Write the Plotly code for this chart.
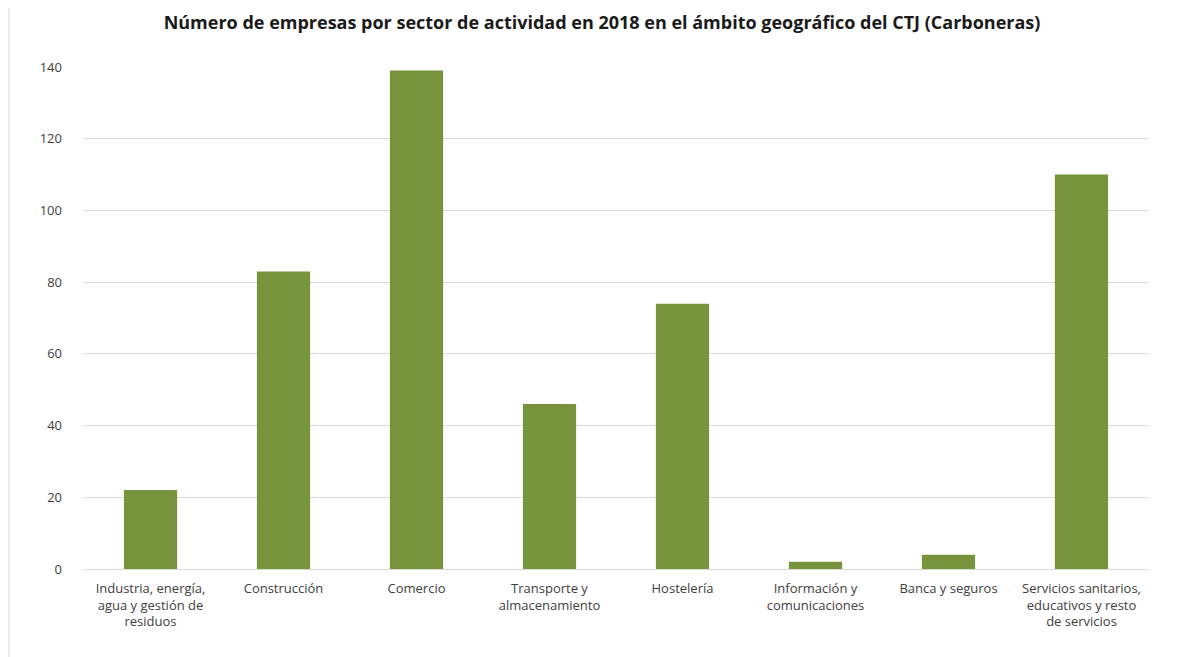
import plotly.graph_objects as go

categories = [
    "Industria, energía,<br>agua y gestión de<br>residuos",
    "Construcción",
    "Comercio",
    "Transporte y<br>almacenamiento",
    "Hostelería",
    "Información y<br>comunicaciones",
    "Banca y seguros",
    "Servicios sanitarios,<br>educativos y resto<br>de servicios",
]
values = [22, 83, 139, 46, 74, 2, 4, 110]
y_ticks = [0, 20, 40, 60, 80, 100, 120, 140]

fig = go.Figure(
    go.Bar(x=categories, y=values, marker=dict(color="#77933C", line=dict(width=0)))
)

W, H = 1181, 649
L, R, T, B = 76, 41, 59, 88

fig.update_layout(
    width=W,
    height=H,
    paper_bgcolor="white",
    plot_bgcolor="white",
    margin=dict(l=L, r=R, t=T, b=B),
    bargap=0.6,
    showlegend=False,
    title=dict(
        text="<b>Número de empresas por sector de actividad en 2018 en el ámbito geográfico del CTJ (Carboneras)</b>",
        x=0.503,
        xanchor="center",
        y=1 - 15 / H,
        yanchor="middle",
        font=dict(family="Open Sans, Liberation Sans, sans-serif", size=18, color="#1a1a1a"),
    ),
    font=dict(family="Open Sans, Liberation Sans, sans-serif", size=13, color="#404040"),
)

fig.update_yaxes(
    range=[0, 140],
    tickvals=y_ticks,
    showgrid=True,
    gridcolor="#D9D9D9",
    gridwidth=1,
    zeroline=False,
    showline=False,
    ticks="",
    ticklabelstandoff=21,
    tickfont=dict(size=13, color="#404040"),
)
fig.update_xaxes(
    showline=True,
    linecolor="#D9D9D9",
    linewidth=1,
    ticks="",
    tickangle=0,
    ticklabelstandoff=7,
    tickfont=dict(size=13, color="#404040"),
)

# outer frame line of the original chart image
pw = W - L - R
ph = H - T - B
fig.add_shape(type="line", xref="paper", yref="paper",
              x0=(1 - L) / pw, x1=(1 - L) / pw, y0=-B / ph, y1=1 + T / ph,
              line=dict(color="#D9D9D9", width=1))

fig.write_html("out.html")
